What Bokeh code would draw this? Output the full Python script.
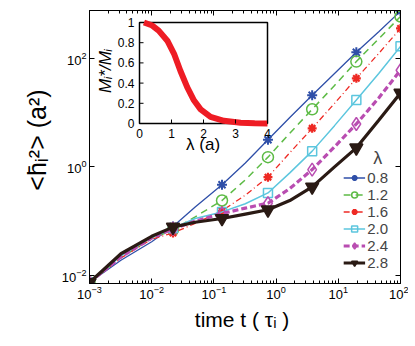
import math
from bokeh.plotting import figure
from bokeh.models import (Range1d, LinearScale, FixedTicker, LogAxis, Legend, LegendItem)
from bokeh.core.properties import value
from bokeh.embed import file_html
from bokeh.resources import INLINE

# ---------------- data ----------------
time_t = [0.001, 0.0032, 0.01, 0.022, 0.05, 0.135, 0.32, 0.74, 1.66, 3.8, 8.7, 19.5, 44.7, 100.0]

msd_08 = [0.0074, 0.019, 0.0417, 0.0794, 0.182, 0.468, 1.175, 3.16, 8.13, 20.9, 52.5, 129.0, 309.0, 741.0]
msd_12 = [0.0074, 0.0214, 0.0479, 0.0692, 0.120, 0.240, 0.575, 1.51, 4.17, 11.5, 31.6, 87.1, 229.0, 589.0]
msd_16 = [0.0074, 0.0209, 0.0468, 0.0603, 0.0912, 0.155, 0.302, 0.646, 1.82, 5.13, 14.8, 42.7, 123.0, 355.0]
msd_20 = [0.0074, 0.0229, 0.0501, 0.0741, 0.112, 0.148, 0.209, 0.331, 0.776, 1.95, 5.75, 17.0, 52.5, 166.0]
msd_24 = [0.0074, 0.0219, 0.049, 0.0724, 0.100, 0.138, 0.174, 0.214, 0.398, 0.891, 2.34, 6.17, 18.6, 60.3]
msd_28 = [0.0074, 0.0251, 0.0525, 0.0776, 0.0955, 0.112, 0.135, 0.162, 0.240, 0.427, 1.0, 2.24, 7.24, 22.9]

lambda_labels = ["0.8", "1.2", "1.6", "2.0", "2.4", "2.8"]
marker_idx = [0, 3, 5, 7, 9, 11, 13]

x_major = [1e-3, 1e-2, 1e-1, 1e0, 1e1, 1e2]
y_major = [1e-2, 1e0, 1e2]

inset_lambda = [0.14, 0.4, 0.6, 0.87, 1.08, 1.28, 1.49, 1.70, 1.91, 2.22, 2.64, 3.16, 3.6, 4.0]
inset_ratio = [1.0, 0.97, 0.92, 0.82, 0.69, 0.52, 0.36, 0.23, 0.14, 0.066, 0.027, 0.007, 0.002, 0.0]
inset_xticks = [0, 1, 2, 3, 4]
inset_yticks = [0, 0.2, 0.4, 0.6, 0.8, 1.0]
inset_ytick_labels = ["0", "0.2", "0.4", "0.6", "0.8", "1"]

# ---------------- styles ----------------
FONT = "Liberation Sans"
colors = ["#2F4FA8", "#5DBB46", "#EE2A24", "#5CC6DE", "#B94DB1", "#2A1A14"]
dashes = ["solid", "7 5", "6 3 1 3", "solid", "6 3", "solid"]
widths = [1.3, 1.5, 1.3, 1.5, 3.2, 3.2]
markers = ["asterisk", "circle", "asterisk", "square", "diamond", "inverted_triangle"]
msizes = [10, 11, 9, 9, 13, 13]
mwidths = [2, 1.5, 2.2, 1.5, 1.5, 1.5]
mfill = [None, None, None, None, None, "#2A1A14"]

p = figure(x_axis_type="log", y_axis_type="log",
           x_range=Range1d(1e-3, 1e2), y_range=Range1d(0.0071, 760),
           frame_width=311, frame_height=273,
           min_border_left=89, min_border_top=10, min_border_right=8, min_border_bottom=8,
           output_backend="svg", toolbar_location=None)
p.grid.visible = False
p.outline_line_color = "black"
p.outline_line_width = 1
p.background_fill_color = "white"

x_minor = [m * d for d in x_major[:-1] for m in range(2, 10)]
p.xaxis.ticker = FixedTicker(ticks=x_major, minor_ticks=x_minor)
p.yaxis.ticker = FixedTicker(ticks=y_major, minor_ticks=[])

for ax in p.xaxis + p.yaxis:
    ax.major_tick_in = 5
    ax.major_tick_out = 0
    ax.minor_tick_in = 3
    ax.minor_tick_out = 0
    ax.axis_line_color = "black"
    ax.major_label_text_font = FONT
    ax.major_label_text_font_size = "13px"
    ax.major_label_text_color = "black"
    ax.axis_label_text_font = FONT
    ax.axis_label_text_font_style = "normal"
    ax.axis_label_text_color = "black"

p.xaxis.major_label_standoff = 2
p.xaxis.axis_label = "time t  ( τᵢ )"
p.xaxis.axis_label_text_font_size = "21px"
p.xaxis.axis_label_standoff = 6
p.yaxis.major_label_standoff = 3
p.yaxis.axis_label = "\u00a0\u00a0\u00a0<h̄ᵢ²>  (a²)"
p.yaxis.axis_label_text_font_size = "25px"
p.yaxis.axis_label_standoff = 8

# mirrored tick marks on the top and right sides (labels hidden)
top_ax = LogAxis(ticker=FixedTicker(ticks=x_major, minor_ticks=x_minor),
                 major_label_text_font_size="1px", major_label_text_alpha=0, major_label_standoff=0,
                 major_tick_in=5, major_tick_out=0, minor_tick_in=3, minor_tick_out=0)
right_ax = LogAxis(ticker=FixedTicker(ticks=y_major, minor_ticks=[]),
                   major_label_text_font_size="1px", major_label_text_alpha=0, major_label_standoff=0,
                   major_tick_in=5, major_tick_out=0, minor_tick_in=3, minor_tick_out=0)
p.add_layout(top_ax, "above")
p.add_layout(right_ax, "right")

series = [msd_08, msd_12, msd_16, msd_20, msd_24, msd_28]
items = []
for i, ys in enumerate(series):
    lr = p.line(time_t, ys, line_color=colors[i], line_width=widths[i], line_dash=dashes[i])
    mx = [time_t[k] for k in marker_idx]
    my = [ys[k] for k in marker_idx]
    mr = p.scatter(mx, my, marker=markers[i], size=msizes[i], line_color=colors[i],
                   line_width=mwidths[i], fill_color=mfill[i],
                   fill_alpha=1.0 if mfill[i] else 0.0)
    items.append(LegendItem(label=lambda_labels[i], renderers=[lr, mr]))

legend = Legend(items=items, title="\u00a0" * 6 + "λ", location="bottom_right",
                label_text_font=FONT, label_text_font_size="15px",
                title_text_font=FONT, title_text_font_size="18px", title_text_font_style="normal",
                glyph_width=22, glyph_height=15, label_height=15, spacing=0,
                padding=4, margin=8, label_standoff=2, title_standoff=0,
                border_line_alpha=0, background_fill_alpha=0)
p.add_layout(legend)

# ---------------- inset (own linear ranges mapped to a sub-area of the frame) ----------------
px_per_x = 32.0   # pixels per lambda unit
px_per_y = 101.0  # pixels per ratio unit
ix0 = 0 - 50 / px_per_x
ix1 = 4 + 133 / px_per_x
iy0 = 0 - 160 / px_per_y
iy1 = 1 + 12 / px_per_y
p.extra_x_ranges = {"inset": Range1d(ix0, ix1)}
p.extra_y_ranges = {"inset": Range1d(iy0, iy1)}
p.extra_x_scales = {"inset": LinearScale()}
p.extra_y_scales = {"inset": LinearScale()}
kw = dict(x_range_name="inset", y_range_name="inset")

p.quad(left=[inset_xticks[0]], right=[inset_xticks[-1]], bottom=[inset_yticks[0]], top=[inset_yticks[-1]],
       fill_color="white", line_color="black", line_width=1.5, **kw)
p.line(inset_lambda, inset_ratio, line_color="#EE1C24", line_width=6, **kw)

tx = 4 / px_per_x
ty = 4 / px_per_y
p.segment(x0=inset_xticks, y0=[0] * 5, x1=inset_xticks, y1=[ty] * 5, line_color="black", **kw)
p.segment(x0=[0] * 6, y0=inset_yticks, x1=[tx] * 6, y1=inset_yticks, line_color="black", **kw)

p.text(x=inset_xticks, y=[-5 / px_per_y] * 5, text=[str(v) for v in inset_xticks],
       text_font=value(FONT), text_font_size="12px", text_align="center", text_baseline="top",
       text_color="black", **kw)
p.text(x=[-5 / px_per_x] * 6, y=inset_yticks, text=inset_ytick_labels,
       text_font=value(FONT), text_font_size="12px", text_align="right", text_baseline="middle",
       text_color="black", **kw)
p.text(x=[2.06], y=[-0.21], text=["λ  (a)"],
       text_font=value(FONT), text_font_size="17px", text_align="center", text_baseline="middle",
       text_color="black", **kw)
p.text(x=[-1.06], y=[0.52], text=["Mᵢ*/Mᵢ"], angle=math.pi / 2,
       text_font=value(FONT), text_font_size="17px", text_font_style="italic",
       text_align="center", text_baseline="middle", text_color="black", **kw)

open("out.html", "w").write(file_html(p, INLINE))
